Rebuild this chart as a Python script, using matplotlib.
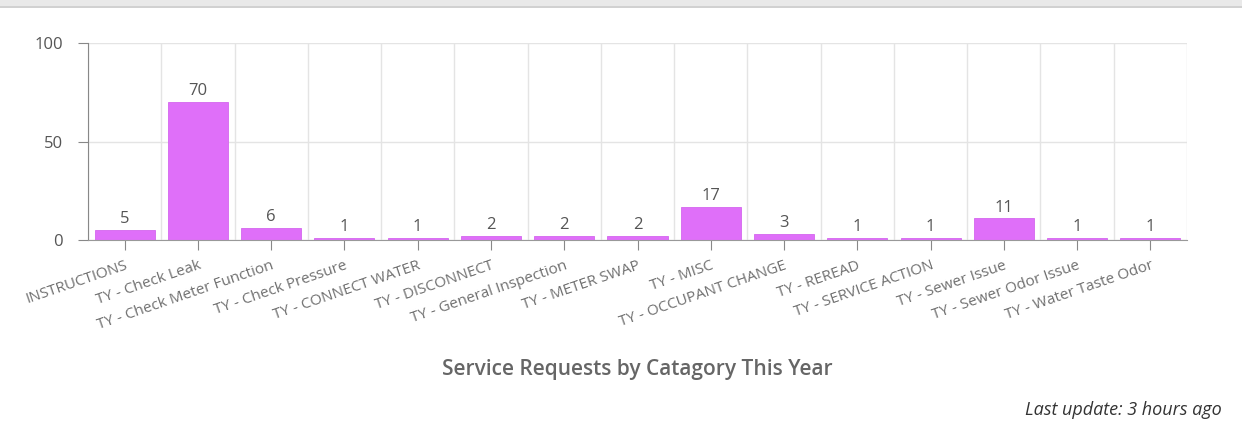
import matplotlib
matplotlib.use("Agg")
import matplotlib.pyplot as plt
from matplotlib.patches import Rectangle
from matplotlib.lines import Line2D
import numpy as np

categories = ["INSTRUCTIONS", "TY - Check Leak", "TY - Check Meter Function", "TY - Check Pressure",
              "TY - CONNECT WATER", "TY - DISCONNECT", "TY - General Inspection", "TY - METER SWAP",
              "TY - MISC", "TY - OCCUPANT CHANGE", "TY - REREAD", "TY - SERVICE ACTION",
              "TY - Sewer Issue", "TY - Sewer Odor Issue", "TY - Water Taste Odor"]
values = [5, 70, 6, 1, 1, 2, 2, 2, 17, 3, 1, 1, 11, 1, 1]
y_ticks = [0, 50, 100]

plt.rcParams['font.family'] = ['Open Sans', 'DejaVu Sans']

fig = plt.figure(figsize=(12.42, 4.26), dpi=100)
fig.patch.set_facecolor('white')

# top frame band
fig.add_artist(Rectangle((0, 1 - 6/426), 1, 6/426, transform=fig.transFigure,
                         facecolor='#e9e9e9', edgecolor='none'))
fig.add_artist(Line2D([0, 1], [1 - 7/426, 1 - 7/426], transform=fig.transFigure,
                      color='#c8c8c8', lw=1.2))

ax = fig.add_axes([88/1242, 1 - 240/426, (1187 - 88)/1242, (240 - 43)/426])
x = np.arange(len(categories))
bars = ax.bar(x, values, width=0.82, color='#df6ff9', edgecolor='#d466ee', linewidth=0.6, zorder=3)

ax.set_xlim(-0.5, len(categories) - 0.5)
ax.set_ylim(0, 100)
ax.set_yticks(y_ticks)
ax.set_yticklabels([str(v) for v in y_ticks], fontsize=12, color='#555555')
ax.tick_params(axis='y', length=7, color='#888888', pad=11)

ax.set_xticks(x)
ax.set_xticklabels(categories, rotation=19, ha='right', rotation_mode='anchor',
                   fontsize=11, color='#707070')
ax.tick_params(axis='x', length=7, color='#888888', pad=6)

ax.set_xticks(np.arange(-0.5, len(categories), 1.0), minor=True)
ax.tick_params(axis='x', which='minor', length=0)
ax.grid(axis='x', which='minor', color='#e4e4e4', lw=1, zorder=0)
ax.grid(axis='y', which='major', color='#e4e4e4', lw=1, zorder=0)
ax.grid(axis='x', which='major', visible=False)

for s in ['top', 'right']:
    ax.spines[s].set_visible(False)
ax.spines['left'].set_color('#888888')
ax.spines['bottom'].set_color('#999999')
ax.spines['bottom'].set_zorder(4)

for xi, v in zip(x, values):
    ax.annotate(str(v), (xi, v), xytext=(0, 2), textcoords='offset points',
                ha='center', va='bottom', fontsize=12, color='#555555')

fig.text(0.513, 1 - 370/426, "Service Requests by Catagory This Year", ha='center', va='center',
         fontsize=15, fontweight='semibold', color='#666666')
fig.text(1222/1242, 1 - 410/426, "Last update: 3 hours ago", ha='right', va='center',
         fontsize=13, style='italic', color='#333333')

fig.savefig('out.png', dpi=100)
